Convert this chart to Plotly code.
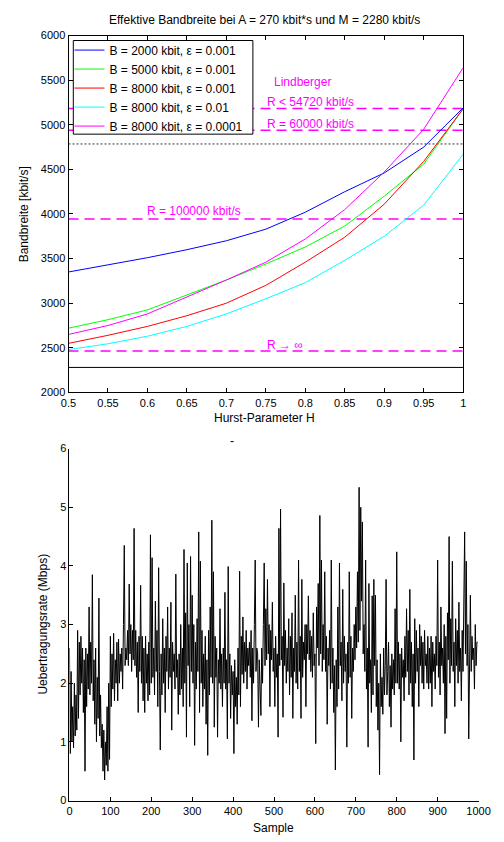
import plotly.graph_objects as go

# ---------------- data: top panel ----------------
hurst = [0.5, 0.55, 0.6, 0.65, 0.7, 0.75, 0.8, 0.85, 0.9, 0.95, 1.0]
bw_b2000_e001 = [3350, 3430, 3510, 3600, 3700, 3830, 4020, 4250, 4460, 4750, 5190]
bw_b5000_e001 = [2720, 2815, 2925, 3095, 3260, 3440, 3630, 3865, 4200, 4560, 5180]
bw_b8000_e001 = [2550, 2640, 2740, 2860, 3000, 3200, 3460, 3740, 4110, 4590, 5180]
bw_b8000_e01 = [2480, 2545, 2630, 2740, 2880, 3050, 3230, 3480, 3750, 4100, 4670]
bw_b8000_e0001 = [2650, 2750, 2880, 3070, 3260, 3460, 3720, 4050, 4470, 4950, 5640]
series_names = ["B = 2000 kbit, ε = 0.001", "B = 5000 kbit, ε = 0.001", "B = 8000 kbit, ε = 0.001",
                "B = 8000 kbit, ε = 0.01", "B = 8000 kbit, ε = 0.0001"]

lindberger_levels = [5182, 4939, 3945, 2464]   # R<54720, R=60000, R=100000, R->inf
lindberger_labels = ["R < 54720 kbit/s", "R = 60000 kbit/s", "R = 100000 kbit/s", "R → ∞"]
dotted_level = 4785
mean_rate_M = 2280

x_ticks_top = [0.5, 0.55, 0.6, 0.65, 0.7, 0.75, 0.8, 0.85, 0.9, 0.95, 1.0]
x_ticklabels_top = ["0.5", "0.55", "0.6", "0.65", "0.7", "0.75", "0.8", "0.85", "0.9", "0.95", "1"]
y_ticks_top = [2000, 2500, 3000, 3500, 4000, 4500, 5000, 5500, 6000]

# ---------------- data: bottom panel (every 2nd sample) ----------------
rate_mbps = [
    2.6, 0.8, 2.2, 1.0, 1.6, 0.9, 2.0, 1.1, 1.8, 1.2,
    2.9, 1.4, 2.7, 1.8, 2.8, 2.0, 2.6, 1.5, 2.4, 0.5,
    2.6, 1.6, 2.5, 1.9, 3.3, 1.8, 2.7, 2.0, 3.85, 1.7,
    2.4, 1.3, 2.6, 1.0, 2.1, 1.4, 3.45, 1.1, 1.8, 0.9,
    1.3, 0.5, 1.2, 0.35, 1.0, 0.6, 1.6, 0.5, 2.0, 0.7,
    2.8, 1.6, 2.5, 1.9, 2.85, 1.7, 2.4, 2.0, 2.7, 1.7,
    2.75, 2.0, 2.5, 2.2, 2.6, 1.9, 3.0, 4.35, 2.3, 2.6,
    2.4, 2.9, 2.3, 3.69, 2.5, 3.0, 2.2, 2.9, 2.4, 4.64,
    2.3, 2.9, 2.1, 2.7, 1.5, 2.8, 2.2, 3.67, 2.0, 2.8,
    1.7, 2.6, 1.5, 2.8, 2.0, 2.5, 1.7, 2.7, 1.8, 4.53,
    2.0, 4.14, 2.1, 2.6, 1.8, 3.4, 2.2, 2.9, 1.6, 3.97,
    2.2, 0.86, 2.5, 1.8, 3.1, 2.0, 2.6, 1.5, 2.8, 2.2,
    3.3, 1.9, 2.6, 2.1, 3.38, 1.2, 2.7, 2.2, 2.5, 1.9,
    3.86, 2.1, 2.4, 1.47, 2.5, 1.8, 3.0, 1.9, 2.6, 1.6,
    4.28, 2.0, 3.2, 1.08, 4.05, 2.3, 3.0, 1.6, 4.16, 2.2,
    3.5, 2.0, 3.0, 0.94, 2.7, 1.9, 3.1, 2.2, 4.58, 1.5,
    4.08, 2.0, 2.9, 1.6, 2.5, 1.9, 2.8, 1.3, 2.4, 0.77,
    2.9, 1.8, 3.3, 2.1, 4.78, 2.0, 3.9, 1.25, 2.8, 2.1,
    2.6, 1.08, 2.4, 2.0, 3.27, 1.9, 2.5, 1.6, 2.6, 2.0,
    3.55, 1.9, 2.4, 1.05, 3.99, 2.0, 2.5, 1.4, 2.3, 1.8,
    2.2, 0.8, 2.4, 1.6, 2.1, 1.3, 2.6, 1.8, 3.91, 1.6,
    2.8, 2.15, 3.13, 2.0, 2.7, 2.2, 2.9, 1.9, 2.6, 2.3,
    2.7, 2.1, 2.9, 1.36, 2.6, 2.0, 3.0, 4.1, 2.2, 2.6,
    2.5, 1.25, 2.4, 1.8, 1.45, 2.6, 2.0, 3.0, 4.05, 2.3,
    3.27, 2.4, 3.77, 2.5, 3.0, 1.6, 2.9, 2.4, 3.38, 2.2,
    2.6, 1.6, 2.8, 2.1, 2.5, 1.08, 4.64, 2.3, 4.97, 2.4,
    2.8, 1.42, 3.71, 2.3, 2.9, 2.0, 2.6, 2.2, 3.1, 1.8,
    2.8, 2.1, 3.2, 1.4, 2.6, 2.2, 3.5, 2.0, 2.7, 1.9,
    4.1, 2.2, 2.8, 1.4, 3.77, 2.1, 2.7, 2.4, 3.0, 1.6,
    3.0, 2.5, 3.49, 2.4, 2.9, 2.2, 2.8, 2.1, 3.2, 2.3,
    2.5, 0.97, 3.3, 2.6, 3.7, 2.3, 4.86, 2.5, 4.1, 2.2,
    3.0, 2.4, 3.9, 2.2, 2.8, 1.3, 2.6, 2.3, 2.9, 1.9,
    4.1, 2.0, 2.6, 1.5, 2.3, 0.52, 2.4, 1.6, 3.3, 1.9,
    4.05, 2.3, 2.7, 1.7, 3.6, 2.0, 2.8, 2.2, 2.5, 0.91,
    2.7, 2.0, 3.9, 2.1, 2.8, 1.4, 2.6, 2.2, 3.0, 2.4,
    3.3, 2.6, 3.9, 2.7, 5.34, 2.9, 5.0, 3.4, 4.75, 2.5,
    3.0, 2.2, 4.1, 1.9, 2.6, 0.91, 3.7, 2.0, 2.4, 1.5,
    3.49, 1.8, 3.77, 2.3, 3.5, 1.6, 2.4, 1.2, 2.0, 0.44,
    2.5, 1.6, 2.1, 1.47, 2.6, 1.8, 2.3, 3.77, 1.8, 2.2,
    2.7, 1.6, 2.3, 1.25, 2.5, 1.9, 2.4, 1.8, 3.27, 2.0,
    4.24, 2.0, 2.7, 1.9, 2.5, 1.0, 2.6, 2.1, 2.4, 1.7,
    2.8, 2.1, 3.27, 2.2, 2.9, 1.8, 3.6, 2.0, 2.7, 1.6,
    2.5, 0.69, 3.1, 2.0, 2.9, 2.2, 2.6, 1.6, 3.0, 2.3,
    2.8, 2.0, 2.7, 1.9, 2.9, 2.3, 2.5, 2.0, 2.8, 1.9,
    2.6, 2.0, 2.8, 1.6, 2.7, 2.2, 2.5, 1.9, 2.8, 2.3,
    4.1, 2.1, 2.7, 1.8, 3.3, 2.3, 2.6, 2.0, 3.0, 1.14,
    2.8, 1.4, 3.2, 2.4, 4.5, 2.0, 3.1, 2.3, 4.08, 2.2,
    2.7, 1.6, 3.1, 2.3, 2.9, 2.0, 3.38, 2.2, 2.6, 1.7,
    2.9, 2.2, 3.3, 4.58, 2.5, 4.08, 2.3, 3.0, 1.05, 2.6,
    3.5, 2.2, 2.8, 2.4, 2.6, 1.9, 3.0, 2.3, 2.7, 2.7,
]
sample_index = list(range(0, 2 * len(rate_mbps), 2))

x_ticks_bot = [0, 100, 200, 300, 400, 500, 600, 700, 800, 900, 1000]
y_ticks_bot = [0, 1, 2, 3, 4, 5, 6]

# ---------------- figure ----------------
W, H = 504, 842
FONT = "Liberation Sans, Arial, sans-serif"
colors = ["#0000FF", "#00FF00", "#FF0000", "#00FFFF", "#FF00FF"]
curves = [bw_b2000_e001, bw_b5000_e001, bw_b8000_e001, bw_b8000_e01, bw_b8000_e0001]

fig = go.Figure()

for lvl in lindberger_levels:
    fig.add_trace(go.Scatter(x=[hurst[0], hurst[-1]], y=[lvl, lvl], mode="lines",
                             line=dict(color="#FF00FF", width=1.5, dash="10px,6px"),
                             showlegend=False, hoverinfo="skip", xaxis="x", yaxis="y"))
fig.add_trace(go.Scatter(x=[hurst[0], hurst[-1]], y=[dotted_level, dotted_level], mode="lines",
                         line=dict(color="#333333", width=1, dash="2px,2px"),
                         showlegend=False, hoverinfo="skip", xaxis="x", yaxis="y"))
fig.add_trace(go.Scatter(x=[hurst[0], hurst[-1]], y=[mean_rate_M, mean_rate_M], mode="lines",
                         line=dict(color="black", width=1),
                         showlegend=False, hoverinfo="skip", xaxis="x", yaxis="y"))

for i, (name, vals, c) in enumerate(zip(series_names, curves, colors)):
    fig.add_trace(go.Scatter(x=hurst, y=vals, mode="lines", name=name,
                             line=dict(color=c, width=1), legendgroup=f"g{i}",
                             xaxis="x", yaxis="y"))

fig.add_trace(go.Scatter(x=sample_index, y=rate_mbps, mode="lines",
                         line=dict(color="black", width=1), showlegend=False,
                         xaxis="x2", yaxis="y2"))


def px_x(p):
    return p / W


def px_y(p):
    return 1 - p / H


tick_font = dict(family=FONT, size=11, color="black")
text_font = dict(family=FONT, size=12, color="black")

fig.update_layout(
    width=W, height=H,
    margin=dict(l=0, r=0, t=0, b=0),
    paper_bgcolor="white", plot_bgcolor="white",
    font=tick_font,
    xaxis=dict(domain=[px_x(63), px_x(474)], range=[0.5, 1.0], tickvals=x_ticks_top,
               ticktext=x_ticklabels_top, ticks="inside", ticklen=4, tickcolor="black",
               showline=True, linecolor="black", linewidth=1, mirror="ticks",
               showgrid=False, zeroline=False, anchor="y", tickfont=tick_font),
    yaxis=dict(domain=[px_y(392), px_y(30)], range=[2000, 6000], tickvals=y_ticks_top,
               ticks="inside", ticklen=4, tickcolor="black",
               showline=True, linecolor="black", linewidth=1, mirror="ticks",
               showgrid=False, zeroline=False, anchor="x", tickfont=tick_font),
    xaxis2=dict(domain=[px_x(64), px_x(490)], range=[0, 1000], tickvals=x_ticks_bot,
                ticks="inside", ticklen=4, tickcolor="black",
                showline=True, linecolor="black", linewidth=1,
                showgrid=False, zeroline=False, anchor="y2", tickfont=tick_font),
    yaxis2=dict(domain=[px_y(806), px_y(449)], range=[0, 6], tickvals=y_ticks_bot,
                ticks="inside", ticklen=4, tickcolor="black",
                showline=True, linecolor="black", linewidth=1,
                showgrid=False, zeroline=False, anchor="x2", tickfont=tick_font),
    legend=dict(x=px_x(64), y=px_y(30), xanchor="left", yanchor="top",
                bgcolor="rgba(0,0,0,0)", borderwidth=0,
                font=dict(family=FONT, size=12, color="black"),
                tracegroupgap=0, itemwidth=30),
    showlegend=True,
)

# opaque legend box (MATLAB style)
fig.add_shape(type="rect", xref="paper", yref="paper",
              x0=px_x(68), x1=px_x(255), y0=px_y(130), y1=px_y(35),
              line=dict(color="black", width=1), fillcolor="white", layer="above")

ann = []
ann.append(dict(text="Effektive Bandbreite bei A = 270 kbit*s und M = 2280 kbit/s",
                x=px_x(267), y=px_y(14), xref="paper", yref="paper", showarrow=False,
                xanchor="center", yanchor="middle", font=text_font))
ann.append(dict(text="Hurst-Parameter H", x=px_x(267), y=px_y(418), xref="paper", yref="paper",
                showarrow=False, xanchor="center", yanchor="middle", font=text_font))
ann.append(dict(text="Bandbreite [kbit/s]", x=px_x(17), y=px_y(211), xref="paper", yref="paper",
                showarrow=False, textangle=-90, xanchor="center", yanchor="middle",
                font=text_font))
ann.append(dict(text="-", x=px_x(233), y=px_y(441), xref="paper", yref="paper",
                showarrow=False, xanchor="center", yanchor="middle", font=text_font))
ann.append(dict(text="Sample", x=px_x(276), y=px_y(834), xref="paper", yref="paper",
                showarrow=False, xanchor="center", yanchor="middle", font=text_font))
ann.append(dict(text="Uebertragungsrate (Mbps)", x=px_x(37), y=px_y(627), xref="paper", yref="paper",
                showarrow=False, textangle=-90, xanchor="center", yanchor="middle",
                font=text_font))

mag_font = dict(family=FONT, size=12, color="#FF00FF")
ann.append(dict(text="Lindberger", x=0.797, y=5481, xref="x", yref="y", showarrow=False,
                xanchor="center", yanchor="middle", font=mag_font))
label_pos = [(0.749, 5250), (0.749, 5006), (0.597, 4033), (0.749, 2530)]
for (lx, ly), txt in zip(label_pos, lindberger_labels):
    ann.append(dict(text=txt, x=lx, y=ly, xref="x", yref="y", showarrow=False,
                    xanchor="left", yanchor="middle", font=mag_font))

fig.update_layout(annotations=ann)
fig.write_html("out.html", config={"displayModeBar": False},
               post_script="document.body.style.margin='0';document.body.style.overflow='hidden';")
